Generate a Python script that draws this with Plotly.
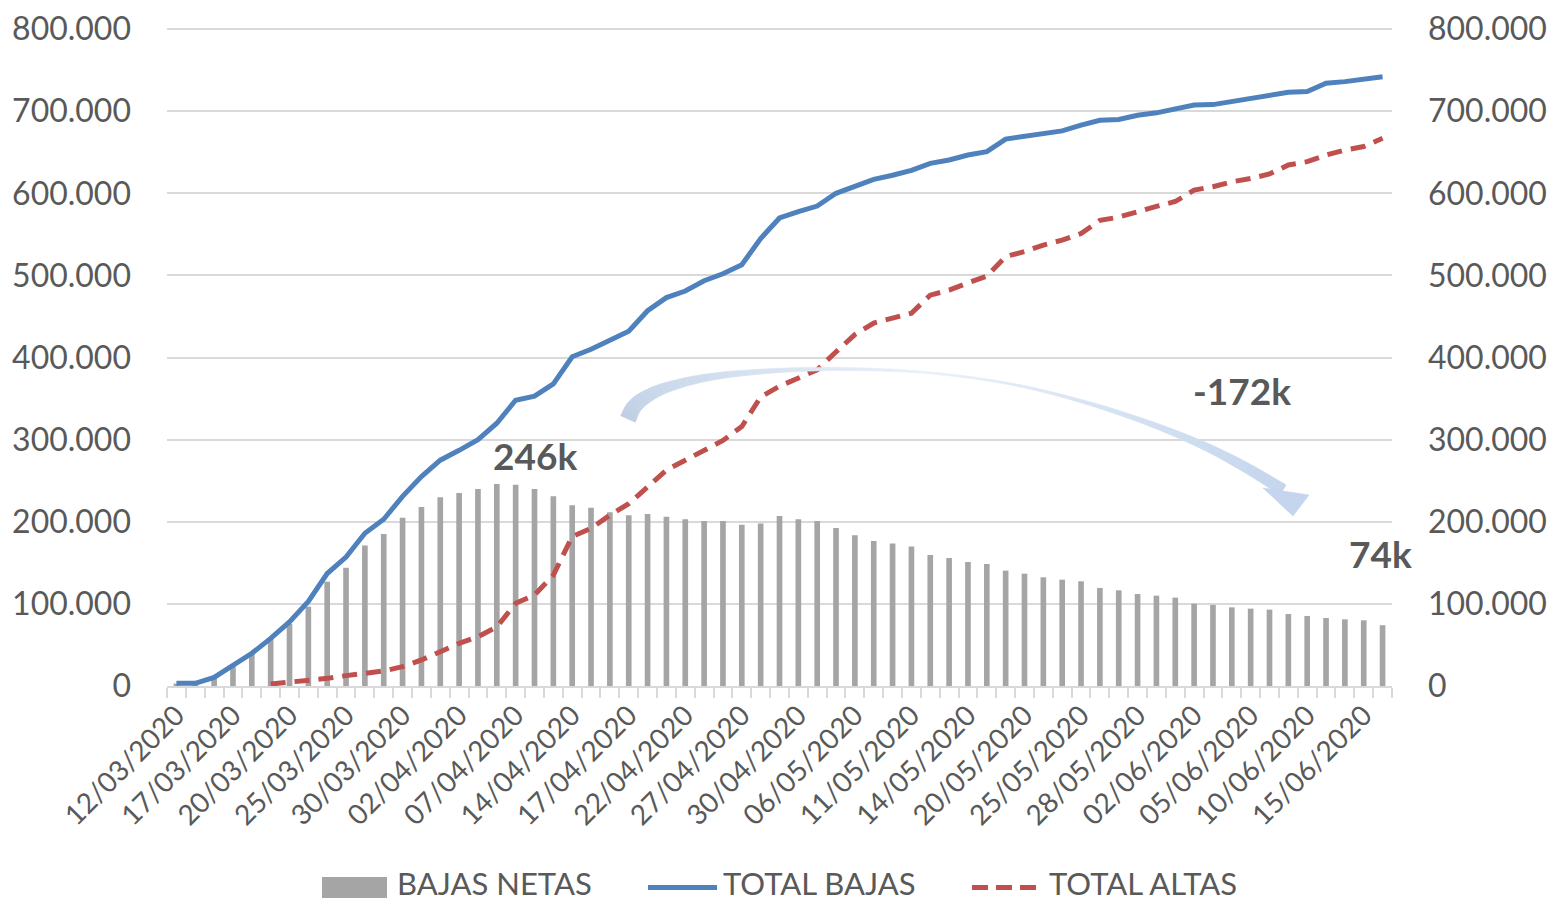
import plotly.graph_objects as go

# ---------------- data ----------------
fechas = [
    "12/03/2020", "13/03/2020", "16/03/2020", "17/03/2020", "18/03/2020", "19/03/2020", "20/03/2020",
    "23/03/2020", "24/03/2020", "25/03/2020", "26/03/2020", "27/03/2020", "30/03/2020", "31/03/2020",
    "01/04/2020", "02/04/2020", "03/04/2020", "06/04/2020", "07/04/2020", "08/04/2020", "13/04/2020",
    "14/04/2020", "15/04/2020", "16/04/2020", "17/04/2020", "20/04/2020", "21/04/2020", "22/04/2020",
    "23/04/2020", "24/04/2020", "27/04/2020", "28/04/2020", "29/04/2020", "30/04/2020", "04/05/2020",
    "05/05/2020", "06/05/2020", "07/05/2020", "08/05/2020", "11/05/2020", "12/05/2020", "13/05/2020",
    "14/05/2020", "18/05/2020", "19/05/2020", "20/05/2020", "21/05/2020", "22/05/2020", "25/05/2020",
    "26/05/2020", "27/05/2020", "28/05/2020", "29/05/2020", "01/06/2020", "02/06/2020", "03/06/2020",
    "04/06/2020", "05/06/2020", "08/06/2020", "09/06/2020", "10/06/2020", "11/06/2020", "12/06/2020",
    "15/06/2020", "16/06/2020",
]

# values in thousands
bajas_netas_k = [
    3, 3, 9.3, 23.5, 39.8, 58, 75.5, 96.6, 127, 144,
    171, 185, 205, 218, 230, 235, 240, 246, 245, 240,
    231, 220, 217, 211.5, 208, 209.5, 206, 203, 201, 201,
    196.5, 198, 207, 203, 201, 192.4, 183.5, 176.6, 173.4, 170,
    159.6, 156, 151, 148.6, 140.5, 136.8, 132.4, 129.5, 127.5, 119.4,
    116.5, 112, 110, 107.6, 100.3, 98.7, 95.8, 94.2, 93, 87.7,
    85.3, 82.8, 81.2, 80, 74,
]

total_bajas_k = [
    3.2, 3.2, 10.5, 25.6, 39.8, 58, 78, 103, 137, 157,
    186, 203, 231, 255, 275, 287, 300, 320, 348, 353,
    368, 401, 410, 421, 432, 457, 473, 481, 493.5, 502,
    513, 545, 570, 577.6, 584.5, 600, 608, 617, 622, 628,
    636.5, 640.5, 646.6, 650.7, 666, 669, 673, 676, 683, 689,
    690, 695, 698, 702, 707.5, 708, 712, 715, 719, 723,
    724, 734, 736, 739, 742,
]

total_altas_k = [None, None, None, None, None] + [
    2.4, 4.5, 6, 9.3, 12.6, 15.4, 18.3, 23.5, 31.7, 41.8,
    52, 60, 72, 100.7, 110.8, 135, 182, 192, 208, 222,
    243, 263, 275, 287, 299, 316, 352, 365, 375, 385,
    407, 428, 442, 448, 454, 476, 482, 491, 499, 523,
    529, 537, 543, 551, 567, 571, 578, 584, 590, 604,
    608, 614, 618, 623.5, 634.5, 638.5, 646.6, 652.7, 657, 667,
]

etiquetas_y = [0, 100000, 200000, 300000, 400000, 500000, 600000, 700000, 800000]

bajas_netas = [v * 1000 for v in bajas_netas_k]
total_bajas = [v * 1000 for v in total_bajas_k]
total_altas = [None if v is None else v * 1000 for v in total_altas_k]

# ---------------- layout helpers ----------------
W, H = 1553, 904
ML, MR, MT, MB = 167, 161, 28, 218
PW, PH = W - ML - MR, H - MT - MB
YMAX = 801300  # a hair above 800.000 so the top gridline is drawn


def px(x):
    return (x - ML) / PW


def py(y):
    return (H - MB - y) / PH


TXT = "#595959"
FONT = "Lato"
GRID = "#D9D9D9"
C_BAR = "#A5A5A5"
C_BLUE = "#4F81BD"
C_RED = "#C0504D"

fig = go.Figure()
fig.add_trace(go.Bar(x=fechas, y=bajas_netas, name="BAJAS NETAS",
                     marker=dict(color=C_BAR, line=dict(width=0)), yaxis="y"))
fig.add_trace(go.Scatter(x=fechas, y=total_bajas, name="TOTAL BAJAS", mode="lines",
                         line=dict(color=C_BLUE, width=5), yaxis="y2"))
fig.add_trace(go.Scatter(x=fechas, y=total_altas, name="TOTAL ALTAS", mode="lines",
                         line=dict(color=C_RED, width=5, dash="15px,9px"), yaxis="y2"))

ticktext = [f if i % 3 == 0 else "" for i, f in enumerate(fechas)]

fig.update_layout(
    width=W, height=H,
    margin=dict(l=ML, r=MR, t=MT, b=MB, pad=0, autoexpand=False),
    paper_bgcolor="white", plot_bgcolor="white",
    separators=",.",
    showlegend=False,
    bargap=0.7,
    font=dict(family=FONT, color=TXT, size=32),
    xaxis=dict(type="category", range=[-0.5, len(fechas) - 0.5], automargin=False,
               tickmode="array", tickvals=fechas, ticktext=ticktext,
               tickangle=-45, tickson="boundaries", ticks="outside", ticklen=10,
               tickcolor=GRID, tickwidth=1.5, showline=True, linecolor=GRID, linewidth=1.5,
               showgrid=False, zeroline=False, tickfont=dict(size=28, color=TXT, family=FONT)),
    yaxis=dict(range=[0, YMAX], tickmode="array", tickvals=etiquetas_y, tickformat=",d",
               automargin=False,
               showgrid=True, gridcolor=GRID, gridwidth=1.5, zeroline=False, showline=False,
               ticks="", ticklabelstandoff=35, tickfont=dict(size=32, color=TXT, family=FONT)),
    yaxis2=dict(overlaying="y", side="right", range=[0, YMAX], tickmode="array",
                tickvals=etiquetas_y, tickformat=",d", showgrid=False, zeroline=False,
                automargin=False,
                showline=False, ticks="", ticklabelstandoff=35,
                tickfont=dict(size=32, color=TXT, family=FONT)),
)

# ---------------- curved arrow (decoration) ----------------
ctr = [(628, 419), (634, 407), (646, 397), (668, 387), (710, 377), (770, 371), (840, 369),
       (920, 372), (1000, 382), (1070, 398), (1140, 420), (1200, 444), (1245, 467), (1283, 490)]
wid = [16, 15, 13, 10, 7, 4.5, 3, 2, 2, 3, 5, 7.5, 10, 12]


def catmull(p0, p1, p2, p3, t):
    t2, t3 = t * t, t * t * t
    return tuple(0.5 * ((2 * p1[k]) + (-p0[k] + p2[k]) * t + (2 * p0[k] - 5 * p1[k] + 4 * p2[k] - p3[k]) * t2
                        + (-p0[k] + 3 * p1[k] - 3 * p2[k] + p3[k]) * t3) for k in range(2))


samples, widths = [], []
n = len(ctr)
STEPS = 6
for i in range(n - 1):
    p0 = ctr[max(i - 1, 0)]
    p1, p2 = ctr[i], ctr[i + 1]
    p3 = ctr[min(i + 2, n - 1)]
    for s in range(STEPS):
        t = s / STEPS
        samples.append(catmull(p0, p1, p2, p3, t))
        widths.append(wid[i] + (wid[i + 1] - wid[i]) * t)
samples.append(ctr[-1])
widths.append(wid[-1])

left, right = [], []
m = len(samples)
for i in range(m):
    a = samples[max(i - 1, 0)]
    b = samples[min(i + 1, m - 1)]
    dx, dy = b[0] - a[0], b[1] - a[1]
    ln = (dx * dx + dy * dy) ** 0.5 or 1
    nx, ny = -dy / ln, dx / ln
    hw = widths[i] / 2
    left.append((samples[i][0] + nx * hw, samples[i][1] + ny * hw))
    right.append((samples[i][0] - nx * hw, samples[i][1] - ny * hw))

stops = [(0.0, (190, 206, 227)), (0.3, (208, 221, 238)), (0.55, (234, 240, 248)),
         (0.75, (212, 225, 242)), (1.0, (196, 213, 237))]


def col(t):
    for j in range(len(stops) - 1):
        t0, c0 = stops[j]
        t1, c1 = stops[j + 1]
        if t <= t1:
            f = (t - t0) / (t1 - t0)
            c = [round(c0[k] + (c1[k] - c0[k]) * f) for k in range(3)]
            return f"rgb({c[0]},{c[1]},{c[2]})"
    c = stops[-1][1]
    return f"rgb({c[0]},{c[1]},{c[2]})"


shapes = []
for i in range(m - 1):
    q = [left[i], left[i + 1], right[i + 1], right[i]]
    path = "M " + " L ".join(f"{px(x):.5f},{py(y):.5f}" for x, y in q) + " Z"
    c = col(i / (m - 2))
    shapes.append(dict(type="path", xref="paper", yref="paper", path=path,
                       fillcolor=c, line=dict(color=c, width=0.6), layer="above"))

head = [(1263, 488), (1309, 495), (1293, 516)]
path = "M " + " L ".join(f"{px(x):.5f},{py(y):.5f}" for x, y in head) + " Z"
shapes.append(dict(type="path", xref="paper", yref="paper", path=path,
                   fillcolor="rgb(196,213,237)", line=dict(color="rgb(196,213,237)", width=0.6),
                   layer="above"))

# ---------------- custom legend ----------------
shapes.append(dict(type="rect", xref="paper", yref="paper", x0=px(322), x1=px(387),
                   y0=py(898), y1=py(877), fillcolor=C_BAR, line=dict(width=0)))
shapes.append(dict(type="line", xref="paper", yref="paper", x0=px(648), x1=px(717),
                   y0=py(887.5), y1=py(887.5), line=dict(color=C_BLUE, width=5)))
shapes.append(dict(type="line", xref="paper", yref="paper", x0=px(972), x1=px(1040),
                   y0=py(887.5), y1=py(887.5), line=dict(color=C_RED, width=5, dash="16px,8px")))

annotations = []
for txt, x in [("BAJAS NETAS", 396), ("TOTAL BAJAS", 722), ("TOTAL ALTAS", 1048)]:
    annotations.append(dict(text=txt, xref="paper", yref="paper", x=px(x), y=py(883),
                            xanchor="left", yanchor="middle", showarrow=False, borderpad=0,
                            font=dict(size=31, color=TXT, family=FONT)))

for txt, x, y in [("246k", 535, 456), ("-172k", 1242, 390), ("74k", 1380, 553)]:
    annotations.append(dict(text=f"<b>{txt}</b>", xref="paper", yref="paper", x=px(x), y=py(y),
                            xanchor="center", yanchor="middle", showarrow=False,
                            font=dict(size=37, color=TXT, family=FONT)))

fig.update_layout(shapes=shapes, annotations=annotations)

fig.write_html("out.html", config={"displayModeBar": False},
               post_script="document.body.style.margin='0px';document.body.style.overflow='hidden';")
